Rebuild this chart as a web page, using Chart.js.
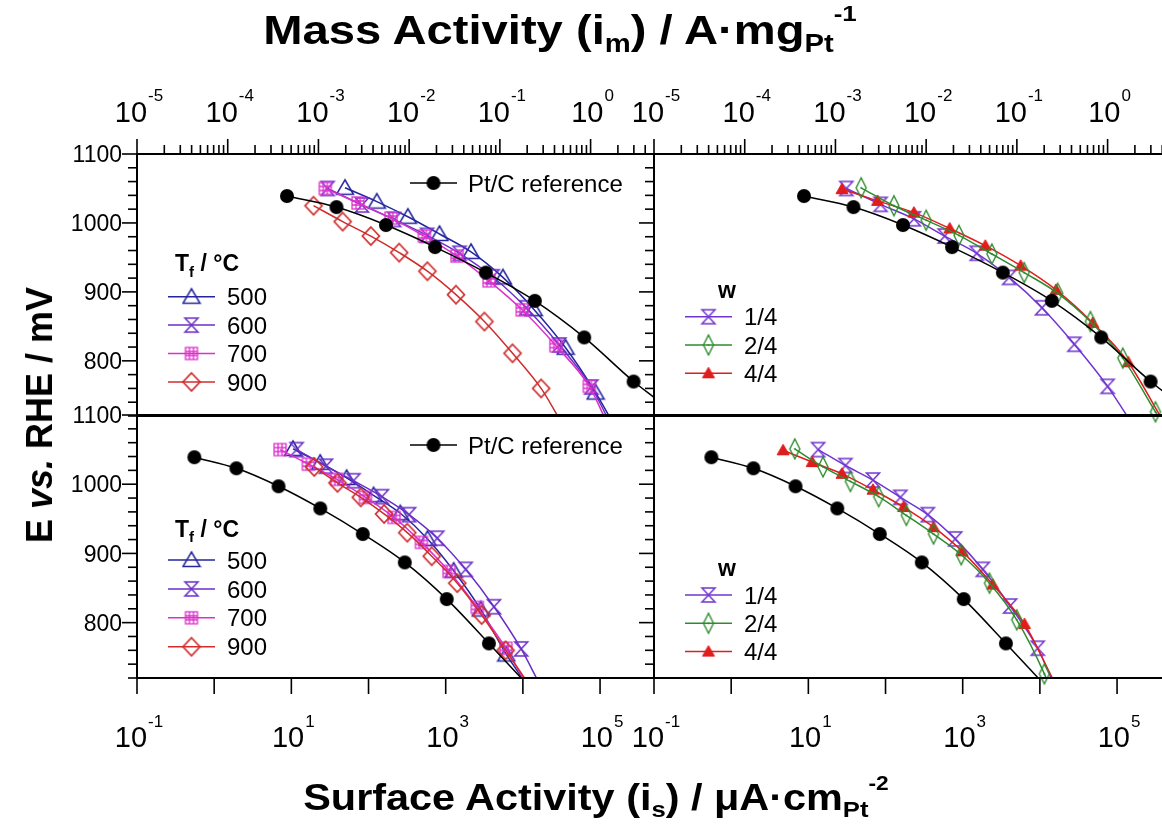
<!DOCTYPE html>
<html>
<head>
<meta charset="utf-8">
<script src="https://cdn.jsdelivr.net/npm/chart.js@4.4.1/dist/chart.umd.min.js"></script>
<style>
  html, body { margin: 0; padding: 0; background: #fff; overflow: hidden; }
  #page { position: relative; width: 1162px; height: 828px; overflow: hidden; font-family: "Liberation Sans", Arial, sans-serif; }
  #page canvas { position: absolute; left: 0; top: 0; }
  .ttl { position: absolute; width: 0; height: 0; }
  .ttl span { position: absolute; left: 0; top: 0; white-space: nowrap; font-weight: bold; color: #000; }
  .ttl sub { font-size: 0.62em; vertical-align: -0.32em; line-height: 0; }
  .ttl sup { font-size: 0.55em; vertical-align: 1.0em; line-height: 0; }
  #ttlTop span { font-size: 41px; line-height: 41px; transform: translateX(-50%) scaleX(1.15); }
  #ttlBot span { font-size: 36px; line-height: 36px; transform: translateX(-50%) scaleX(1.15); }
  #ttlLeft span { font-size: 36px; line-height: 36px; transform: translate(-50%, -50%) rotate(-90deg); }
</style>
</head>
<body>
<div id="page">
  <canvas id="tl" width="1180" height="828"></canvas>
  <canvas id="tr" width="1180" height="828"></canvas>
  <canvas id="bl" width="1180" height="828"></canvas>
  <canvas id="br" width="1180" height="828"></canvas>
  <div class="ttl" id="ttlTop" style="left:560px; top:10px"><span>Mass Activity (i<sub>m</sub>) / A·mg<sub>Pt</sub><sup>-1</sup></span></div>
  <div class="ttl" id="ttlBot" style="left:596px; top:780px"><span>Surface Activity (i<sub>s</sub>) / μA·cm<sub>Pt</sub><sup>-2</sup></span></div>
  <div class="ttl" id="ttlLeft" style="left:40px; top:415px"><span>E <i>vs.</i> RHE / mV</span></div>
</div>
<script>
// ---- data -------------------------------------------------------------
// potentials (mV vs RHE) and activities; i_m in A/mg_Pt, i_s in uA/cm2_Pt
// "End" pairs are [activity, E] where the fitted curve leaves the frame

var refE  = [1039, 1023, 997, 965, 928, 887, 834, 770];
var refIm = [4.5e-4, 1.58e-3, 5.55e-3, 0.0193, 0.0700, 0.243, 0.850, 2.98];
var refIs = [0.553, 1.94, 6.82, 23.7, 84.3, 295, 1030, 3630];
var refImEnd = [5.0, 747];
var refIsEnd = [9500, 720];

// firing temperature series
var tfLabels = ['500', '600', '700', '900'];

var t500E  = [1051, 1031, 1009, 984, 958, 921, 875, 819, 754];
var t500Im = [1.96e-3, 4.40e-3, 9.68e-3, 0.0216, 0.0481, 0.108, 0.236, 0.530, 1.135];
var t500Is = [10.5, 23.6, 52.0, 116, 258, 582, 1268, 2844, 6095];
var t500ImEnd = [1.6, 720];
var t500IsEnd = [9800, 720];

var t600E  = [1050, 1026, 1005, 982, 956, 922, 877, 823, 762];
var t600Im = [1.26e-3, 3.02e-3, 6.84e-3, 0.0158, 0.0359, 0.0832, 0.195, 0.452, 1.02];
var t600Is = [11.7, 28.1, 63.8, 149, 335, 778, 1815, 4217, 9506];
var t600ImEnd = [1.5, 720];
var t600IsEnd = [15000, 720];

var t700E  = [1050, 1029, 1007, 981, 952, 916, 874, 822, 763];
var t700Im = [1.19e-3, 2.73e-3, 6.30e-3, 0.0147, 0.0337, 0.0759, 0.176, 0.414, 0.968];
var t700Is = [7.13, 16.6, 38.9, 91.2, 214, 484, 1104, 2564, 6026];
var t700ImEnd = [1.4, 720];
var t700IsEnd = [10000, 720];

var t900E  = [1025, 1002, 981, 957, 930, 896, 857, 811, 760];
var t900Im = [8.83e-4, 1.85e-3, 3.78e-3, 7.76e-3, 0.0159, 0.0328, 0.0675, 0.138, 0.285];
var t900Is = [19.8, 39.6, 79.4, 159, 318, 659, 1413, 2924, 5970];
var t900ImEnd = [0.435, 720];
var t900IsEnd = [10500, 720];

// w series
var wLabels = ['1/4', '2/4', '4/4'];

var w1E  = [1050, 1027, 1006, 981, 956, 921, 877, 824, 763];
var w1Im = [1.32e-3, 3.14e-3, 7.33e-3, 0.0160, 0.0361, 0.0822, 0.189, 0.430, 1.00];
var w1Is = [13.4, 30.2, 68.7, 156, 353, 800, 1820, 4111, 9376];
var w1ImEnd = [1.64, 720];
var w1IsEnd = [14000, 720];

var w2E  = [1051, 1025, 1004, 982, 955, 928, 898, 857, 804, 726];
var w2Im = [1.92e-3, 4.41e-3, 0.0100, 0.0230, 0.0530, 0.1205, 0.282, 0.646, 1.47, 3.37];
var w2Is = [6.67, 15.5, 35.1, 81.5, 186, 419, 957, 2223, 5012, 11430];
var w2ImEnd = [3.6, 720];
var w2IsEnd = [12000, 720];

var w4E  = [1049, 1032, 1015, 992, 967, 938, 903, 855, 798];
var w4Im = [1.18e-3, 2.91e-3, 7.33e-3, 0.0182, 0.0449, 0.110, 0.270, 0.687, 1.69];
var w4Is = [4.71, 11.2, 27.3, 68.7, 171, 419, 986, 2449, 6310];
var w4ImEnd = [3.8, 720];
var w4IsEnd = [14500, 720];

// axes
var eRange = [720, 1100];
var eMajor = [800, 900, 1000, 1100];
var eMinorStep = 20;
var massRange = [1e-5, 5];
var massDecades = [-5, -4, -3, -2, -1, 0];
var surfRange = [0.1, 5e5];
var surfDecades = [-1, 0, 1, 2, 3, 4, 5];
var surfLabelDecades = [-1, 1, 3, 5];

// ---- drawing ----------------------------------------------------------
var CW = 1180, CH = 828;
var FONT = '"Liberation Sans", Arial, sans-serif';

var c500 = '#25259f', c600 = '#6a2ec8', c700 = '#dc30cc', c900 = '#d02c2c';
var cW1 = '#7034cf', cW2 = '#2e8b2e', cW4 = '#e01c1c';

function mk(w, h, fn) {
  var c = document.createElement('canvas');
  c.width = w; c.height = h;
  var g = c.getContext('2d');
  g.translate(w / 2, h / 2);
  fn(g);
  return c;
}
function poly(g, pts) {
  g.beginPath();
  g.moveTo(pts[0][0], pts[0][1]);
  for (var i = 1; i < pts.length; i++) g.lineTo(pts[i][0], pts[i][1]);
  g.closePath();
}

var mCircle = mk(16, 16, function (g) {
  g.fillStyle = '#000'; g.beginPath(); g.arc(0, 0, 7, 0, Math.PI * 2); g.fill();
});
var mTri = mk(20, 20, function (g) {
  g.strokeStyle = c500; g.lineWidth = 1.5;
  poly(g, [[0, -8], [8.5, 6.5], [-8.5, 6.5]]); g.stroke();
});
function hourglass(col) {
  return mk(18, 18, function (g) {
    g.strokeStyle = col; g.lineWidth = 1.5;
    poly(g, [[-6.5, -7], [6.5, -7], [-6.5, 7], [6.5, 7]]); g.stroke();
  });
}
var mHour600 = hourglass(c600), mHourW1 = hourglass(cW1);
var mGrid = mk(16, 16, function (g) {
  g.strokeStyle = c700; g.lineWidth = 1.3;
  g.strokeRect(-6, -6, 12, 12);
  g.beginPath();
  g.moveTo(-2, -6); g.lineTo(-2, 6); g.moveTo(2, -6); g.lineTo(2, 6);
  g.moveTo(-6, -2); g.lineTo(6, -2); g.moveTo(-6, 2); g.lineTo(6, 2);
  g.stroke();
});
var mDiam = mk(22, 22, function (g) {
  g.strokeStyle = c900; g.lineWidth = 1.7;
  poly(g, [[0, -9], [8.5, 0], [0, 9], [-8.5, 0]]); g.stroke();
});
var mThin = mk(14, 24, function (g) {
  g.strokeStyle = cW2; g.lineWidth = 1.4;
  poly(g, [[0, -10], [5, 0], [0, 10], [-5, 0]]); g.stroke();
  g.fillStyle = cW2; g.fillRect(-0.8, -0.8, 1.6, 1.6);
});
var mFilledTri = mk(16, 14, function (g) {
  g.fillStyle = cW4; g.strokeStyle = cW4; g.lineWidth = 1;
  poly(g, [[0, -6], [6, 4.5], [-6, 4.5]]); g.fill(); g.stroke();
});

function series(xs, es, end, color, img) {
  var pts = xs.map(function (v, i) { return { x: v, y: es[i] }; });
  pts.push({ x: end[0], y: end[1] });
  var r = pts.map(function (p, i) { return i < xs.length ? 6 : 0; });
  return {
    data: pts, borderColor: color, borderWidth: 1.5,
    pointStyle: img, pointRadius: r, pointHoverRadius: r, pointBorderWidth: 0,
    cubicInterpolationMode: 'monotone', tension: 0.4, fill: false, clip: 12
  };
}

function sText(ctx, str, x, y, font, align) {
  ctx.font = font;
  ctx.textAlign = align || 'left';
  ctx.fillText(str, x, y);
  return ctx.measureText(str).width;
}
function textW(ctx, str, font) {
  ctx.font = font;
  return ctx.measureText(str).width;
}
function powLabel(ctx, exp, cx, base, supBase) {
  var big = '29px ' + FONT, small = '17px ' + FONT;
  var e = String(exp);
  var w = textW(ctx, '10', big) + textW(ctx, e, small) + 1;
  var x0 = cx - w / 2 + 2;
  var w1 = sText(ctx, '10', x0, base, big, 'left');
  sText(ctx, e, x0 + w1 + 1, supBase, small, 'left');
}
function seg(ctx, x1, y1, x2, y2) {
  ctx.beginPath(); ctx.moveTo(x1, y1); ctx.lineTo(x2, y2); ctx.stroke();
}

var panelPlugin = {
  id: 'panel',
  afterDatasetsDraw: function (chart, args, o) {
    var ctx = chart.ctx, a = chart.chartArea, xs = chart.scales.x, ys = chart.scales.y;
    ctx.save();
    ctx.strokeStyle = '#000';
    ctx.fillStyle = '#000';
    ctx.lineWidth = 2;
    ctx.strokeRect(a.left, a.top, a.right - a.left, a.bottom - a.top);

    // E axis, ticks pointing out of the frame
    ctx.lineWidth = 1.6;
    for (var v = eRange[0]; v <= eRange[1]; v += eMinorStep) {
      var py = ys.getPixelForValue(v);
      var len = eMajor.indexOf(v) >= 0 ? 15 : 9;
      seg(ctx, a.left - len, py, a.left, py);
    }
    if (o.eLabels) {
      eMajor.forEach(function (v) {
        var py = ys.getPixelForValue(v);
        sText(ctx, String(v), 122, py + 8.2, '23px ' + FONT, 'right');
      });
    }

    if (o.axis === 'mass') {
      massDecades.forEach(function (d) {
        var px = xs.getPixelForValue(Math.pow(10, d));
        seg(ctx, px, a.top - 15, px, a.top);
        for (var k = 2; k <= 9; k++) {
          var val = k * Math.pow(10, d);
          if (val >= massRange[1]) break;
          var pm = xs.getPixelForValue(val);
          seg(ctx, pm, a.top - 9, pm, a.top);
        }
        powLabel(ctx, d, px, 122, 101);
      });
    } else {
      surfDecades.forEach(function (d) {
        var px = xs.getPixelForValue(Math.pow(10, d));
        seg(ctx, px, a.bottom, px, a.bottom + 16);
        if (surfLabelDecades.indexOf(d) >= 0) powLabel(ctx, d, px, 747, 727);
      });
    }

    // reference legend entry
    if (o.refKey) {
      var ry = o.refKey;
      ctx.strokeStyle = '#000'; ctx.lineWidth = 1.5;
      seg(ctx, 410, ry, 457, ry);
      ctx.drawImage(mCircle, 433.5 - 8, ry - 8);
      sText(ctx, 'Pt/C reference', 468, ry + 8.6, '24px ' + FONT, 'left');
    }

    // series legend
    if (o.key) {
      var k = o.key;
      var tf = 'bold 23px ' + FONT;
      if (k.title === 'Tf') {
        var w = sText(ctx, 'T', k.tx, k.ty + 8.2, tf, 'left');
        w += sText(ctx, 'f', k.tx + w, k.ty + 14, 'bold 15px ' + FONT, 'left');
        sText(ctx, ' / °C', k.tx + w, k.ty + 8.2, tf, 'left');
      } else {
        sText(ctx, k.title, k.tx, k.ty + 8.2, tf, 'left');
      }
      k.items.forEach(function (it, i) {
        var y = k.y0 + i * k.dy;
        ctx.strokeStyle = it.color; ctx.lineWidth = 1.5;
        seg(ctx, k.x1, y, k.x2, y);
        var mx = (k.x1 + k.x2) / 2;
        ctx.drawImage(it.img, mx - it.img.width / 2, y - it.img.height / 2);
        sText(ctx, it.label, k.x2 + 12, y + 8.6, '24px ' + FONT, 'left');
      });
    }
    ctx.restore();
  }
};

function makeChart(id, area, range, datasets, panel) {
  return new Chart(document.getElementById(id), {
    type: 'line',
    data: { datasets: datasets },
    options: {
      responsive: false, animation: false, devicePixelRatio: 1, events: [],
      layout: { padding: { left: area[0], top: area[1], right: CW - area[2], bottom: CH - area[3] } },
      scales: {
        x: { type: 'logarithmic', min: range[0], max: range[1], display: false },
        y: { type: 'linear', min: eRange[0], max: eRange[1], display: false }
      },
      plugins: { legend: { display: false }, tooltip: { enabled: false }, panel: panel }
    },
    plugins: [panelPlugin]
  });
}

var tfItems = [
  { label: tfLabels[0], color: c500, img: mTri },
  { label: tfLabels[1], color: c600, img: mHour600 },
  { label: tfLabels[2], color: c700, img: mGrid },
  { label: tfLabels[3], color: c900, img: mDiam }
];
var wItems = [
  { label: wLabels[0], color: cW1, img: mHourW1 },
  { label: wLabels[1], color: cW2, img: mThin },
  { label: wLabels[2], color: cW4, img: mFilledTri }
];

// top left: mass activity, firing temperature
makeChart('tl', [137, 154, 654, 416], massRange, [
  series(refIm, refE, refImEnd, '#000', mCircle),
  series(t900Im, t900E, t900ImEnd, c900, mDiam),
  series(t700Im, t700E, t700ImEnd, c700, mGrid),
  series(t600Im, t600E, t600ImEnd, c600, mHour600),
  series(t500Im, t500E, t500ImEnd, c500, mTri)
], { axis: 'mass', eLabels: true, refKey: 183,
     key: { title: 'Tf', tx: 175, ty: 263, x1: 168, x2: 215, y0: 296.7, dy: 28.4, items: tfItems } });

// top right: mass activity, w
makeChart('tr', [654, 154, 1171, 416], massRange, [
  series(refIm, refE, refImEnd, '#000', mCircle),
  series(w2Im, w2E, w2ImEnd, cW2, mThin),
  series(w4Im, w4E, w4ImEnd, cW4, mFilledTri),
  series(w1Im, w1E, w1ImEnd, cW1, mHourW1)
], { axis: 'mass', eLabels: false,
     key: { title: 'w', tx: 718, ty: 290, x1: 685, x2: 732, y0: 316.7, dy: 28.3, items: wItems } });

// bottom left: surface activity, firing temperature
makeChart('bl', [137, 415, 654, 678], surfRange, [
  series(refIs, refE, refIsEnd, '#000', mCircle),
  series(t900Is, t900E, t900IsEnd, c900, mDiam),
  series(t700Is, t700E, t700IsEnd, c700, mGrid),
  series(t600Is, t600E, t600IsEnd, c600, mHour600),
  series(t500Is, t500E, t500IsEnd, c500, mTri)
], { axis: 'surf', eLabels: true, refKey: 445,
     key: { title: 'Tf', tx: 175, ty: 528.3, x1: 168, x2: 215, y0: 560, dy: 28.9, items: tfItems } });

// bottom right: surface activity, w
makeChart('br', [654, 415, 1171, 678], surfRange, [
  series(refIs, refE, refIsEnd, '#000', mCircle),
  series(w2Is, w2E, w2IsEnd, cW2, mThin),
  series(w4Is, w4E, w4IsEnd, cW4, mFilledTri),
  series(w1Is, w1E, w1IsEnd, cW1, mHourW1)
], { axis: 'surf', eLabels: false,
     key: { title: 'w', tx: 718, ty: 568, x1: 685, x2: 732, y0: 595, dy: 28.3, items: wItems } });
</script>
</body>
</html>
